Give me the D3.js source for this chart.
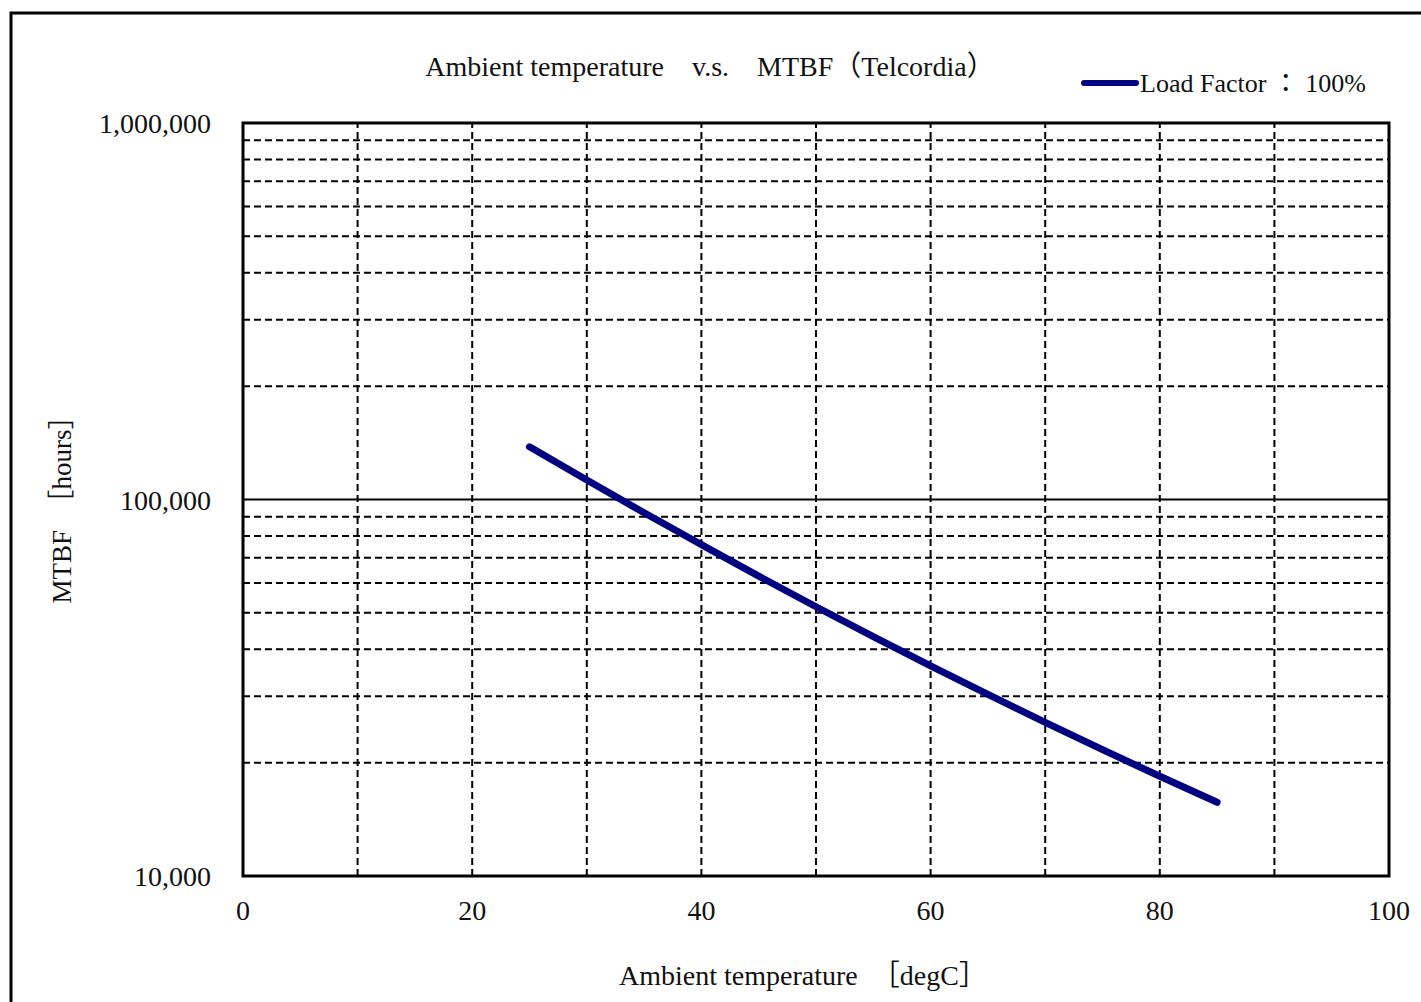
<!DOCTYPE html>
<html>
<head>
<meta charset="utf-8">
<script src="https://cdn.jsdelivr.net/npm/d3@7"></script>
<style>
  body { margin: 0; background: #fff; }
  text { font-family: "Liberation Serif", "Noto Sans CJK JP", serif; fill: #111; }
</style>
</head>
<body>
<div id="chart"></div>
<script>
// Data
var temps = [25, 30, 35, 40, 45, 50, 55, 60, 65, 70, 75, 80, 85];
var mtbf = [138000, 112600, 92200, 75900, 62600, 51900, 43250, 36150, 30350, 25600, 21650, 18400, 15700];
var xTicks = [0, 20, 40, 60, 80, 100];
var xGrid = [10, 20, 30, 40, 50, 60, 70, 80, 90];
var yTicks = [10000, 100000, 1000000];
var yMinor = [20000, 30000, 40000, 50000, 60000, 70000, 80000, 90000,
              200000, 300000, 400000, 500000, 600000, 700000, 800000, 900000];

var width = 1421;
var height = 1002;
var margin = { left: 243, right: 32, top: 123, bottom: 126 };

var svg = d3.select("#chart")
    .append("svg")
    .attr("width", width)
    .attr("height", height);

// outer frame
svg.append("rect")
    .attr("x", 11).attr("y", 13)
    .attr("width", 1420).attr("height", 1010)
    .attr("fill", "none")
    .attr("stroke", "#000")
    .attr("stroke-width", 3);

var x = d3.scaleLinear()
    .domain([0, 100])
    .range([margin.left, width - margin.right]);

var y = d3.scaleLog()
    .domain([10000, 1000000])
    .range([height - margin.bottom, margin.top]);

var fmt = d3.format(",");

// minor gridlines (dashed)
svg.append("g").selectAll("line.hmin")
    .data(yMinor)
    .enter()
    .append("line")
    .attr("x1", x(0)).attr("x2", x(100))
    .attr("y1", function (d) { return y(d); })
    .attr("y2", function (d) { return y(d); })
    .attr("stroke", "#000")
    .attr("stroke-width", 2)
    .attr("stroke-dasharray", "7,4");

svg.append("g").selectAll("line.v")
    .data(xGrid)
    .enter()
    .append("line")
    .attr("y1", y(10000)).attr("y2", y(1000000))
    .attr("x1", function (d) { return x(d); })
    .attr("x2", function (d) { return x(d); })
    .attr("stroke", "#000")
    .attr("stroke-width", 2)
    .attr("stroke-dasharray", "7,4");

// major gridline
svg.append("line")
    .attr("x1", x(0)).attr("x2", x(100))
    .attr("y1", y(100000)).attr("y2", y(100000))
    .attr("stroke", "#000")
    .attr("stroke-width", 2);

// plot frame
svg.append("rect")
    .attr("x", x(0)).attr("y", y(1000000))
    .attr("width", x(100) - x(0))
    .attr("height", y(10000) - y(1000000))
    .attr("fill", "none")
    .attr("stroke", "#000")
    .attr("stroke-width", 3);

// axes labels
svg.append("g").selectAll("text")
    .data(yTicks)
    .enter()
    .append("text")
    .attr("x", 211)
    .attr("y", function (d) { return y(d) + 10; })
    .attr("text-anchor", "end")
    .style("font-size", "28px")
    .text(function (d) { return fmt(d); });

svg.append("g").selectAll("text")
    .data(xTicks)
    .enter()
    .append("text")
    .attr("x", function (d) { return x(d); })
    .attr("y", 920)
    .attr("text-anchor", "middle")
    .style("font-size", "28px")
    .text(function (d) { return d; });

// the series
var line = d3.line()
    .curve(d3.curveMonotoneX)
    .x(function (d, i) { return x(temps[i]); })
    .y(function (d) { return y(d); });

svg.append("path")
    .datum(mtbf)
    .attr("d", line)
    .attr("fill", "none")
    .attr("stroke", "#000080")
    .attr("stroke-width", 7)
    .attr("stroke-linecap", "round")
    .attr("stroke-linejoin", "round");

// titles
svg.append("text")
    .attr("x", 710).attr("y", 76)
    .attr("text-anchor", "middle")
    .style("font-size", "28px")
    .text("Ambient temperature\u3000v.s.\u3000MTBF\uff08Telcordia\uff09");

svg.append("text")
    .attr("x", 803).attr("y", 985)
    .attr("text-anchor", "middle")
    .style("font-size", "28px")
    .text("Ambient temperature\u3000\uff3bdegC\uff3d");

svg.append("text")
    .attr("transform", "translate(71,503) rotate(-90)")
    .attr("text-anchor", "middle")
    .style("font-size", "27px")
    .text("MTBF\u3000\uff3bhours\uff3d");

// legend
svg.append("line")
    .attr("x1", 1084).attr("x2", 1136)
    .attr("y1", 83).attr("y2", 83)
    .attr("stroke", "#000080")
    .attr("stroke-width", 6)
    .attr("stroke-linecap", "round");

svg.append("text")
    .attr("x", 1140).attr("y", 92)
    .style("font-size", "26px")
    .text("Load Factor \uff1a 100%");
</script>
</body>
</html>
